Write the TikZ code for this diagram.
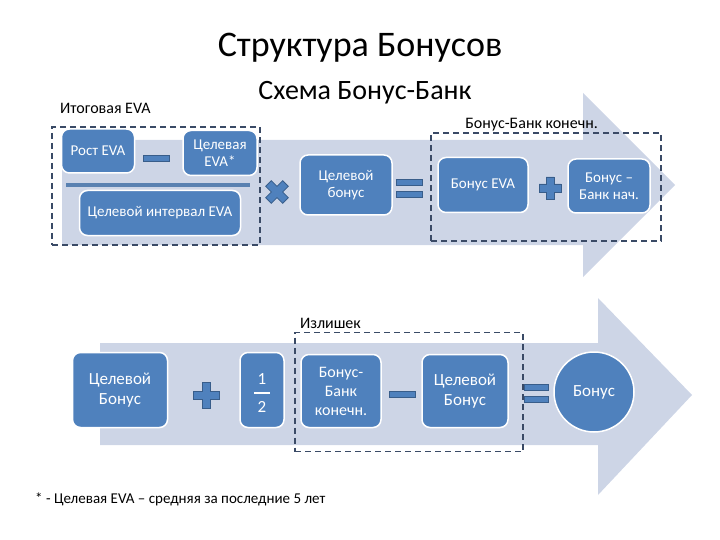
\documentclass[tikz,border=0pt]{standalone}
\usepackage{fontspec}
\setmainfont{Carlito}
\begin{document}
\begin{tikzpicture}[x=1pt,y=1pt,
  box/.style={draw=white,line width=1.5pt,fill=boxblue,rounded corners=8pt,inner sep=0pt},
  bt/.style={text=white,align=center,font=\fontsize{15}{17}\selectfont,inner sep=0pt},
  op/.style={fill=boxblue,draw=opdark,line width=0.8pt},
  dbox/.style={draw=dashc,line width=1.5pt,dash pattern=on 6pt off 4pt},
  lab/.style={font=\fontsize{16}{18}\selectfont,anchor=west,inner sep=0pt}]
\definecolor{boxblue}{HTML}{4F81BD}
\definecolor{opdark}{HTML}{385D8A}
\definecolor{arr}{HTML}{CDD5E6}
\definecolor{dashc}{HTML}{3A4A66}
\useasboundingbox (0,0) rectangle (720,-540);
% arrows
\fill[arr] (62,-140) -- (583,-140) -- (583,-93) -- (675,-185) -- (583,-277) -- (583,-245) -- (62,-245) -- cycle;
\fill[arr] (100,-343) -- (598,-343) -- (598,-298) -- (692,-395) -- (598,-495) -- (598,-445) -- (100,-445) -- cycle;
% titles
\node (t1) at (360,-48) {\fontsize{36}{40}\selectfont Структура Бонусов};
\node (t2) at (365,-93) {\fontsize{28}{32}\selectfont Схема Бонус-Банк};
% top row
\node[lab] (l1) at (60,-108) {Итоговая EVA};
\node[box,minimum width=73pt,minimum height=44pt] (rost) at (98,-151) {};
\node[bt] (rostT) at (rost.center) {Рост EVA};
\node[box,minimum width=74pt,minimum height=45pt] (tgt) at (220,-153) {};
\node[bt] (tgtT) at (tgt.center) {Целевая\\EVA*};
\fill[boxblue!80!gray] (66,-183) rectangle (250,-187);
\node[box,minimum width=161pt,minimum height=45pt] (int) at (160,-213) {};
\node[bt] (intT) at (int.center) {Целевой интервал EVA};
\node[op,minimum width=26pt,minimum height=6pt,inner sep=0pt] (m1) at (156,-158) {};
\node[box,minimum width=92pt,minimum height=60pt] (tb) at (346,-185) {};
\node[bt] (tbT) at (tb.center) {Целевой\\бонус};
\node[box,minimum width=90pt,minimum height=55pt] (beva) at (483,-185) {};
\node[bt] (bevaT) at (beva.center) {Бонус EVA};
\node[box,minimum width=82pt,minimum height=54pt] (bbn) at (609,-186) {};
\node[bt] (bbnT) at (bbn.center) {Бонус –\\Банк нач.};
\node[dbox,minimum width=208pt,minimum height=118pt] (d1) at (156,-186) {};
\node[dbox,minimum width=230pt,minimum height=108pt] (d2) at (546,-187) {};
\node[lab,anchor=east] (l2) at (598,-125) {Бонус-Банк конечн.};
% times
\draw[op,rotate around={45:(277,-192)}] (265,-188) -- (273,-188) -- (273,-180) -- (281,-180) -- (281,-188) -- (289,-188) -- (289,-196) -- (281,-196) -- (281,-204) -- (273,-204) -- (273,-196) -- (265,-196) -- cycle;
% equals
\node[op,minimum width=26pt,minimum height=6pt,inner sep=0pt] (e1) at (409,-182) {};
\node[op,minimum width=26pt,minimum height=6pt,inner sep=0pt] (e2) at (409,-194) {};
% plus
\draw[op] (539,-184) -- (546,-184) -- (546,-177) -- (554,-177) -- (554,-184) -- (561,-184) -- (561,-192) -- (554,-192) -- (554,-199) -- (546,-199) -- (546,-192) -- (539,-192) -- cycle;
% bottom row
\node[box,minimum width=95pt,minimum height=75pt] (cb1) at (120,-390) {};
\node[bt,font=\fontsize{17}{20}\selectfont] (cb1T) at (cb1.center) {Целевой\\Бонус};
\draw[op] (193,-391) -- (202,-391) -- (202,-382) -- (210,-382) -- (210,-391) -- (219,-391) -- (219,-399) -- (210,-399) -- (210,-408) -- (202,-408) -- (202,-399) -- (193,-399) -- cycle;
\node[box,minimum width=44pt,minimum height=75pt] (half) at (262,-390) {};
\node[bt,font=\fontsize{17}{20}\selectfont] (h1) at (262,-379) {1};
\node[bt,font=\fontsize{17}{20}\selectfont] (h2) at (262,-407) {2};
\draw[white,line width=1.2pt] (254,-393) -- (270,-393);
\node[box,minimum width=80pt,minimum height=73pt] (bbk) at (341,-391) {};
\node[bt,font=\fontsize{16}{19}\selectfont] (bbkT) at (bbk.center) {Бонус-\\Банк\\конечн.};
\node[op,minimum width=26pt,minimum height=6pt,inner sep=0pt] (m2) at (402,-394) {};
\node[box,minimum width=86pt,minimum height=73pt] (cb2) at (465,-391) {};
\node[bt,font=\fontsize{17}{20}\selectfont] (cb2T) at (cb2.center) {Целевой\\Бонус};
\node[op,minimum width=24pt,minimum height=6pt,inner sep=0pt] (e3) at (536,-387) {};
\node[op,minimum width=24pt,minimum height=6pt,inner sep=0pt] (e4) at (536,-399) {};
\node[box,circle,minimum size=80pt,rounded corners=0pt] (bon) at (594,-392) {};
\node[bt,font=\fontsize{17}{20}\selectfont] (bonT) at (bon.center) {Бонус};
\node[dbox,minimum width=228pt,minimum height=119pt] (d3) at (409,-392) {};
\node[lab] (l3) at (300,-323) {Излишек};
\node[lab,anchor=west,font=\fontsize{15}{17}\selectfont] (foot) at (35,-499) {* - Целевая EVA – средняя за последние 5 лет};
\end{tikzpicture}
\end{document}
